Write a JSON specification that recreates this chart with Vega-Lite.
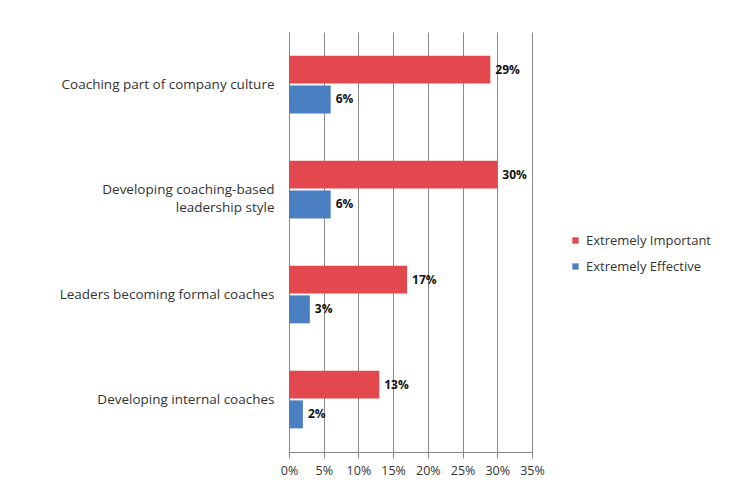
{
  "$schema": "https://vega.github.io/schema/vega-lite/v6.json",
  "width": 243,
  "height": 420,
  "autosize": {"type": "none"},
  "padding": {"left": 289, "top": 32, "right": 223, "bottom": 50},
  "background": "white",
  "config": {
    "view": {"stroke": null},
    "font": "Open Sans",
    "axis": {"labelFont": "Open Sans", "labelColor": "#333333", "labelFontSize": 13}
  },
  "data": {
    "values": [
      {"category": "Coaching part of company culture", "series": "Extremely Important", "value": 0.29},
      {"category": "Coaching part of company culture", "series": "Extremely Effective", "value": 0.06},
      {"category": "Developing coaching-based leadership style", "series": "Extremely Important", "value": 0.30},
      {"category": "Developing coaching-based leadership style", "series": "Extremely Effective", "value": 0.06},
      {"category": "Leaders becoming formal coaches", "series": "Extremely Important", "value": 0.17},
      {"category": "Leaders becoming formal coaches", "series": "Extremely Effective", "value": 0.03},
      {"category": "Developing internal coaches", "series": "Extremely Important", "value": 0.13},
      {"category": "Developing internal coaches", "series": "Extremely Effective", "value": 0.02}
    ]
  },
  "encoding": {
    "y": {
      "field": "category",
      "type": "nominal",
      "sort": null,
      "scale": {"paddingInner": 0.45, "paddingOuter": 0.225},
      "axis": {
        "title": null,
        "ticks": false,
        "domain": true,
        "domainColor": "#888888",
        "labelPadding": 15,
        "labelLimit": 300,
        "labelFontSize": 13.5,
        "labelLineHeight": 18,
        "labelExpr": "datum.label == 'Developing coaching-based leadership style' ? ['Developing coaching-based', 'leadership style'] : datum.label"
      }
    },
    "yOffset": {
      "field": "series",
      "type": "nominal",
      "sort": ["Extremely Important", "Extremely Effective"],
      "scale": {"paddingInner": 0.06}
    },
    "x": {
      "field": "value",
      "type": "quantitative",
      "scale": {"domain": [0, 0.35], "nice": false},
      "axis": {
        "title": null,
        "format": ".0%",
        "values": [0, 0.05, 0.1, 0.15, 0.2, 0.25, 0.3, 0.35],
        "grid": true,
        "gridColor": "#8a8a8a",
        "gridWidth": 1,
        "domainColor": "#888888",
        "tickColor": "#888888",
        "tickSize": 6,
        "labelPadding": 6,
        "labelFlush": false,
        "labelOverlap": false,
        "labelFontSize": 12.5
      }
    }
  },
  "layer": [
    {
      "mark": {"type": "bar"},
      "encoding": {
        "color": {
          "field": "series",
          "type": "nominal",
          "sort": ["Extremely Important", "Extremely Effective"],
          "scale": {"domain": ["Extremely Important", "Extremely Effective"], "range": ["#E3484F", "#4A7FC1"]},
          "legend": {
            "title": null,
            "orient": "none",
            "legendX": 280,
            "legendY": 202,
            "symbolType": "square",
            "symbolSize": 40,
            "labelFontSize": 13,
            "labelColor": "#333333",
            "rowPadding": 12
          }
        }
      }
    },
    {
      "mark": {"type": "text", "align": "left", "dx": 5, "fontWeight": "bold", "fontSize": 12, "color": "#111111"},
      "encoding": {
        "text": {"field": "value", "type": "quantitative", "format": ".0%"}
      }
    }
  ]
}
